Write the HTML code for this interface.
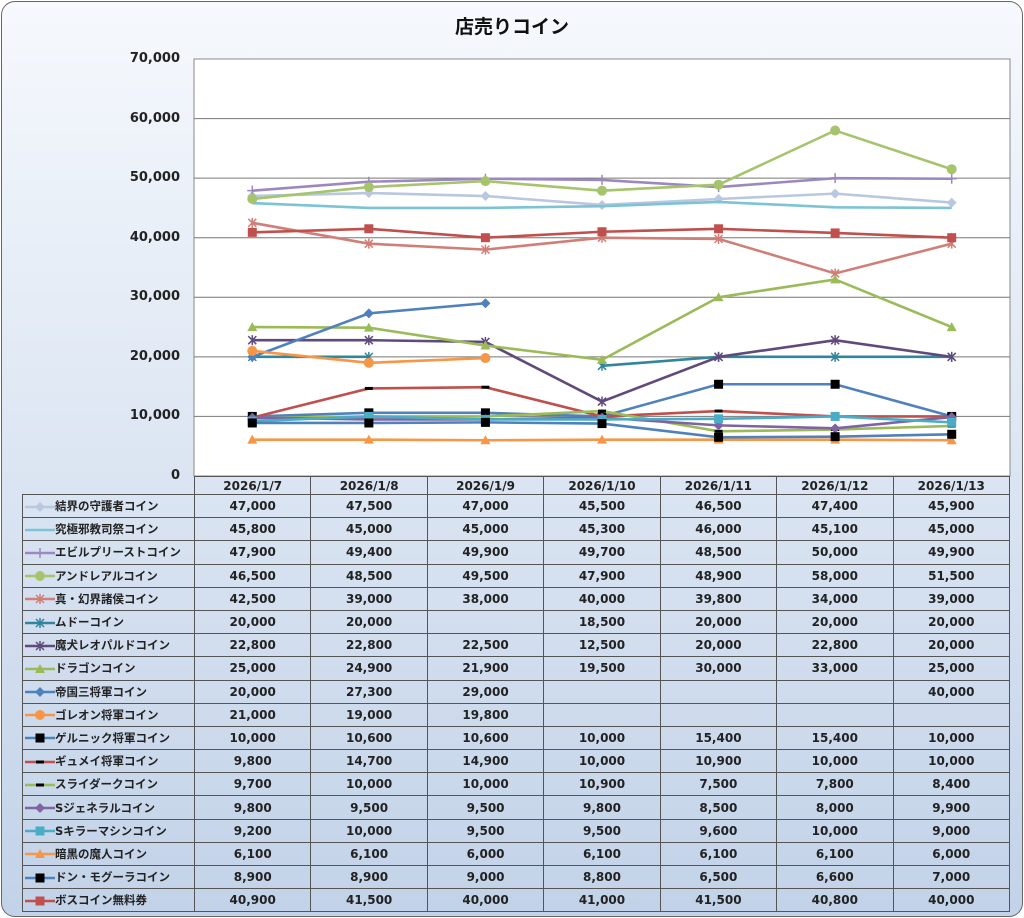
<!DOCTYPE html>
<html><head><meta charset="utf-8"><style>
body{margin:0;width:1024px;height:918px;overflow:hidden;background:#fff;font-family:"DejaVu Sans","Noto Sans CJK JP",sans-serif}
#bg{position:absolute;left:1px;top:1px;width:1020px;height:914px;border:1px solid #666;border-radius:14px;background:linear-gradient(#f6f9fd,#c2d2e8)}
#title{position:absolute;top:12px;left:0;width:1024px;text-align:center;font-size:19px;font-weight:bold;color:#111}
.yl{position:absolute;left:100px;width:80px;text-align:right;font-size:13px;font-weight:bold;color:#222}
svg{position:absolute;left:0;top:0}
table{position:absolute;left:22px;top:476px;border-collapse:collapse;table-layout:fixed;width:988px;font-size:12px;font-weight:bold;color:#222}
td{border:1px solid #555;height:22.2px;padding:0;text-align:center;overflow:hidden}
td.n{text-align:left;white-space:nowrap;font-size:11.5px}
tr.h td{height:17px}
tr.h td.e{border:none;border-right:1px solid #555}
.s{display:inline-block;width:30px;height:12px;vertical-align:middle;margin-left:2px}
</style></head><body>
<div id="bg"></div>
<div id="title">店売りコイン</div>
<div class="yl" style="top:51px">70,000</div>
<div class="yl" style="top:111px">60,000</div>
<div class="yl" style="top:170px">50,000</div>
<div class="yl" style="top:230px">40,000</div>
<div class="yl" style="top:289px">30,000</div>
<div class="yl" style="top:349px">20,000</div>
<div class="yl" style="top:408px">10,000</div>
<div class="yl" style="top:468px">0</div>
<svg id="sv" width="1024" height="918"></svg>
<table id="tb">
<colgroup><col style="width:172px"><col><col><col><col><col><col><col></colgroup>
<tr class="h"><td class="n e"></td><td>2026/1/7</td><td>2026/1/8</td><td>2026/1/9</td><td>2026/1/10</td><td>2026/1/11</td><td>2026/1/12</td><td>2026/1/13</td></tr>
</table>
<script>
var S=[
["結界の守護者コイン","#b9c7df","d","#b9c7df",[47000,47500,47000,45500,46500,47400,45900]],
["究極邪教司祭コイン","#7cc3d6","n","",[45800,45000,45000,45300,46000,45100,45000]],
["エビルプリーストコイン","#9d87c1","p","#9d87c1",[47900,49400,49900,49700,48500,50000,49900]],
["アンドレアルコイン","#a5c46b","c","#a5c46b",[46500,48500,49500,47900,48900,58000,51500]],
["真・幻界諸侯コイン","#d17e78","x","#d17e78",[42500,39000,38000,40000,39800,34000,39000]],
["ムドーコイン","#31859c","x","#31859c",[20000,20000,null,18500,20000,20000,20000]],
["魔犬レオパルドコイン","#604a7b","x","#604a7b",[22800,22800,22500,12500,20000,22800,20000]],
["ドラゴンコイン","#9bbb59","t","#9bbb59",[25000,24900,21900,19500,30000,33000,25000]],
["帝国三将軍コイン","#4f81bd","d","#4f81bd",[20000,27300,29000,null,null,null,40000]],
["ゴレオン将軍コイン","#f79646","c","#f79646",[21000,19000,19800,null,null,null,null]],
["ゲルニック将軍コイン","#4f81bd","s","#000",[10000,10600,10600,10000,15400,15400,10000]],
["ギュメイ将軍コイン","#c0504d","m","#000",[9800,14700,14900,10000,10900,10000,10000]],
["スライダークコイン","#9bbb59","m","#000",[9700,10000,10000,10900,7500,7800,8400]],
["Sジェネラルコイン","#8064a2","d","#8064a2",[9800,9500,9500,9800,8500,8000,9900]],
["Sキラーマシンコイン","#4bacc6","s","#4bacc6",[9200,10000,9500,9500,9600,10000,9000]],
["暗黒の魔人コイン","#f79646","t","#f79646",[6100,6100,6000,6100,6100,6100,6000]],
["ドン・モグーラコイン","#4f81bd","s","#000",[8900,8900,9000,8800,6500,6600,7000]],
["ボスコイン無料券","#c0504d","s","#c0504d",[40900,41500,40000,41000,41500,40800,40000]]];
function X(i){return 194+116.57*(i+.5)}function Y(v){return 476-v*417/70000}
function mk(t,x,y,c){if(t=="n")return"";
if(t=="d")return`<polygon points="${x},${y-5} ${x+5},${y} ${x},${y+5} ${x-5},${y}" fill="${c}"/>`;
if(t=="c")return`<circle cx="${x}" cy="${y}" r="5" fill="${c}"/>`;
if(t=="s")return`<rect x="${x-4.5}" y="${y-4.5}" width="9" height="9" fill="${c}"/>`;
if(t=="t")return`<polygon points="${x},${y-5} ${x+5},${y+4} ${x-5},${y+4}" fill="${c}"/>`;
if(t=="m")return`<rect x="${x-4}" y="${y-1.5}" width="8" height="3" fill="${c}"/>`;
if(t=="p")return`<path d="M${x-5} ${y}H${x+5}M${x} ${y-5}V${y+5}" stroke="${c}" stroke-width="1.5"/>`;
if(t=="x")return`<path d="M${x-4} ${y-4}L${x+4} ${y+4}M${x+4} ${y-4}L${x-4} ${y+4}M${x} ${y-5}V${y+5}" stroke="${c}" stroke-width="1.5"/>`;}
var g='<rect x="194" y="59" width="816" height="417" fill="#fff" stroke="#888"/>';
for(var k=1;k<7;k++){var yy=Y(k*10000);g+=`<line x1="194" x2="1010" y1="${yy}" y2="${yy}" stroke="#777"/>`}
S.forEach(function(s){var d="",pen=false;s[4].forEach(function(v,i){if(v==null){pen=false;return}d+=(pen?"L":"M")+X(i)+" "+Y(v);pen=true});
g+=`<path d="${d}" fill="none" stroke="${s[1]}" stroke-width="2.6"/>`;
s[4].forEach(function(v,i){if(v!=null)g+=mk(s[2],X(i),Y(v),s[3])})});
document.getElementById('sv').innerHTML=g;
var h="";S.forEach(function(s){h+=`<tr><td class="n"><svg class="s" style="position:static" width="30" height="12"><line x1="0" x2="30" y1="6" y2="6" stroke="${s[1]}" stroke-width="2.5"/>${mk(s[2],15,6,s[3])}</svg>${s[0]}</td>`;
s[4].forEach(function(v){h+="<td>"+(v==null?"":v.toLocaleString("en-US"))+"</td>"});h+="</tr>"});
document.getElementById('tb').insertAdjacentHTML('beforeend',h);
</script>
</body></html>
